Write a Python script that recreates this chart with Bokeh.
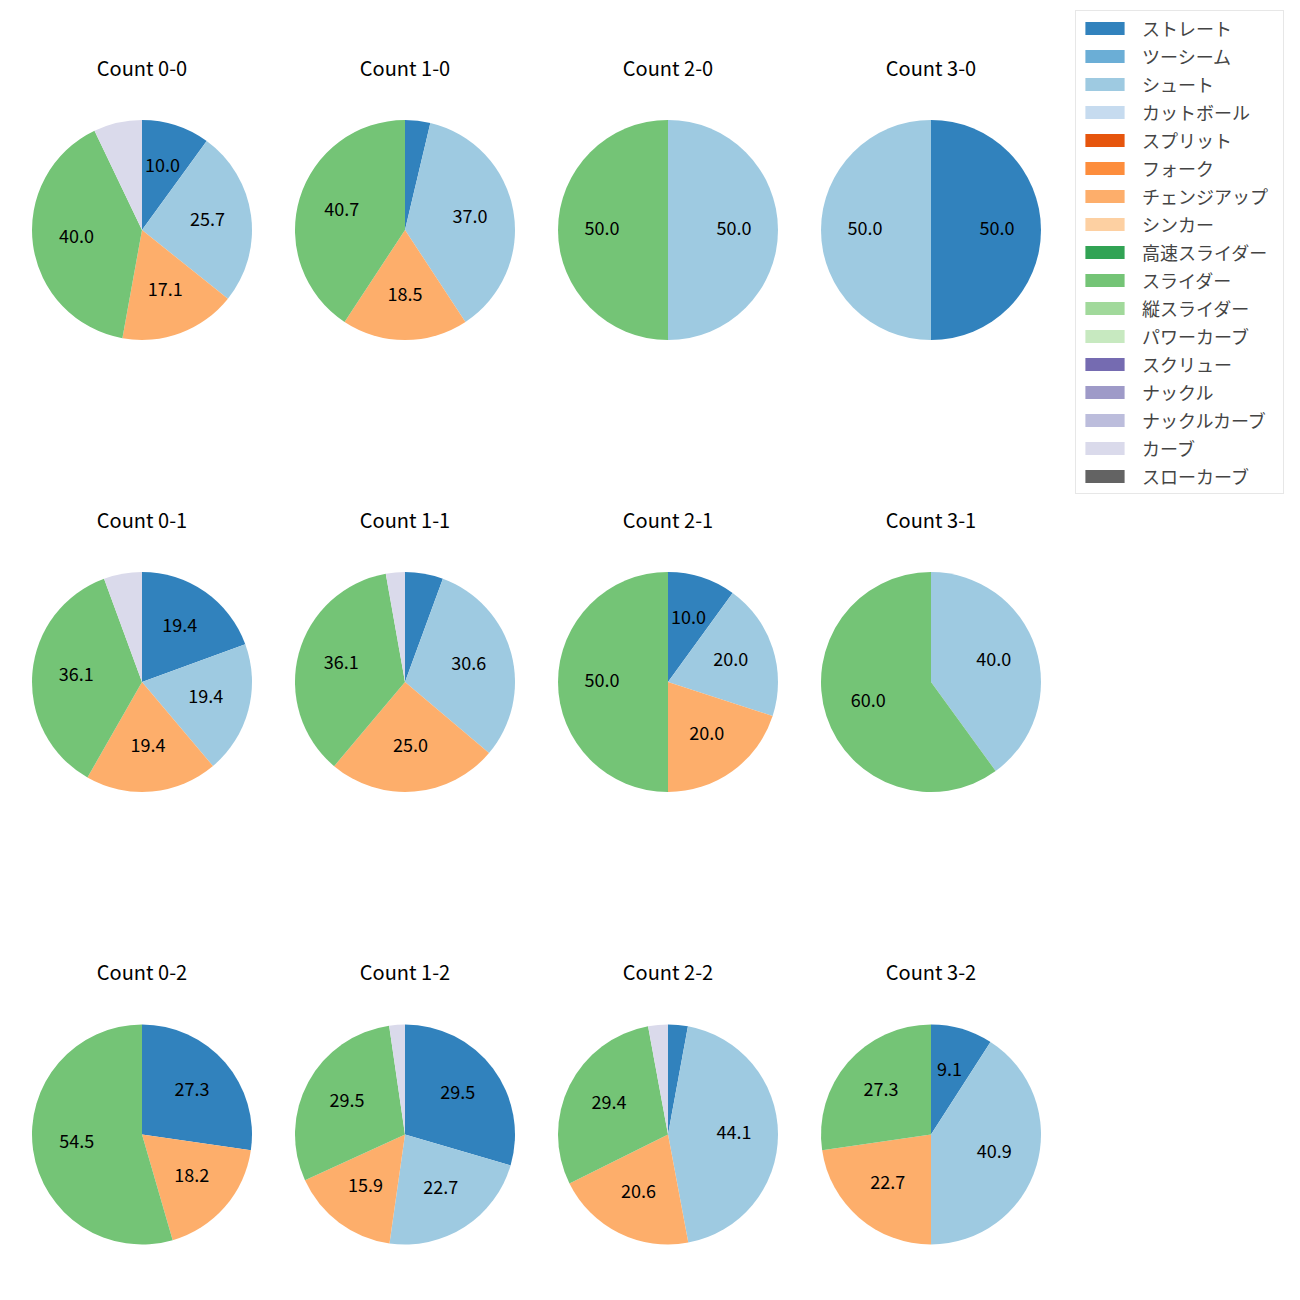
import math
from bokeh.plotting import figure
from bokeh.models import ColumnDataSource, Range1d
from bokeh.core.properties import value
from bokeh.embed import file_html
from bokeh.resources import INLINE

FONT = "Noto Sans CJK JP"

# pie titles (strikes row, balls column)
counts = ["0-0", "1-0", "2-0", "3-0",
          "0-1", "1-1", "2-1", "3-1",
          "0-2", "1-2", "2-2", "3-2"]

categories = ["ストレート", "ツーシーム", "シュート", "カットボール", "スプリット", "フォーク",
              "チェンジアップ", "シンカー", "高速スライダー", "スライダー", "縦スライダー",
              "パワーカーブ", "スクリュー", "ナックル", "ナックルカーブ", "カーブ", "スローカーブ"]

colors = ["#3182bd", "#6baed6", "#9ecae1", "#c6dbef", "#e6550d", "#fd8d3c",
          "#fdae6b", "#fdd0a2", "#31a354", "#74c476", "#a1d99b", "#c7e9c0",
          "#756bb1", "#9e9ac8", "#bcbddc", "#dadaeb", "#636363"]

# percentages per pie (order of counts)
straight = [10.0, 3.7, 0, 50.0, 19.4, 5.6, 10.0, 0, 27.3, 29.5, 2.9, 9.1]
shoot    = [25.7, 37.0, 50.0, 50.0, 19.4, 30.6, 20.0, 40.0, 0, 22.7, 44.1, 40.9]
changeup = [17.1, 18.5, 0, 0, 19.4, 25.0, 20.0, 0, 18.2, 15.9, 20.6, 22.7]
slider   = [40.0, 40.7, 50.0, 0, 36.1, 36.1, 50.0, 60.0, 54.5, 29.5, 29.4, 27.3]
curve    = [7.1, 0, 0, 0, 5.6, 2.8, 0, 0, 0, 2.3, 2.9, 0]
zeros    = [0] * 12

series = {c: zeros for c in categories}
series["ストレート"] = straight
series["シュート"] = shoot
series["チェンジアップ"] = changeup
series["スライダー"] = slider
series["カーブ"] = curve

# layout (pixels; y measured from top)
W = H = 1300
col_x = [141.5, 404.5, 667.5, 930.5]
row_y = [229.5, 681.5, 1134.0]
title_y = [69, 521, 973]
R = 110
LABEL_R = 0.6 * R
TEXT_SHIFT = 2.5

p = figure(width=W, height=H, x_range=Range1d(0, W), y_range=Range1d(0, H),
           x_axis_type=None, y_axis_type=None, toolbar_location=None,
           output_backend="svg", min_border=0)
p.grid.visible = False
p.outline_line_color = None
p.background_fill_color = "white"

totals = [sum(series[c][i] for c in categories) for i in range(12)]

lab_x, lab_y, lab_t = [], [], []
cum = [0.0] * 12
for ci, cat in enumerate(categories):
    xs, ys, st, en = [], [], [], []
    for i in range(12):
        v = series[cat][i]
        if v <= 0:
            continue
        cx = col_x[i % 4]
        cy = H - row_y[i // 4]
        f0 = cum[i] / totals[i]
        f1 = (cum[i] + v) / totals[i]
        cum[i] += v
        xs.append(cx)
        ys.append(cy)
        st.append(math.pi / 2 - 2 * math.pi * f1)
        en.append(math.pi / 2 - 2 * math.pi * f0)
        if v >= 8:
            mid = math.pi / 2 - math.pi * (f0 + f1)
            lab_x.append(cx + LABEL_R * math.cos(mid))
            lab_y.append(cy + LABEL_R * math.sin(mid) + TEXT_SHIFT)
            lab_t.append(f"{v:.1f}")
    if not xs:
        # category absent from every pie: nothing drawn, legend entry only
        xs, ys, st, en = [float("nan")], [float("nan")], [0.0], [0.0]
    src = ColumnDataSource(dict(x=xs, y=ys, start=st, end=en))
    p.wedge(x="x", y="y", radius=R, start_angle="start", end_angle="end",
            fill_color=colors[ci], line_color=None, source=src, legend_label=cat)

p.text(x=lab_x, y=lab_y, text=lab_t, text_align="center", text_baseline="middle",
       text_font=value(FONT), text_font_size="18px", text_color="black")

tx = [col_x[i % 4] for i in range(12)]
ty = [H - title_y[i // 4] + TEXT_SHIFT for i in range(12)]
tt = [f"Count {c}" for c in counts]
p.text(x=tx, y=ty, text=tt, text_align="center", text_baseline="middle",
       text_font=value(FONT), text_font_size="20px", text_color="black")

leg = p.legend[0]
leg.location = (1075, H - 494)
leg.padding = 4
leg.spacing = 2
leg.glyph_width = 49
leg.glyph_height = 16
leg.label_height = 16
leg.label_width = 137
leg.label_standoff = 13
leg.label_text_font = FONT
leg.label_text_font_size = "18px"
leg.border_line_color = "#d0d0d0"
leg.border_line_width = 1
leg.background_fill_alpha = 1.0
leg.margin = 0

open("out.html", "w").write(file_html(p, INLINE))
